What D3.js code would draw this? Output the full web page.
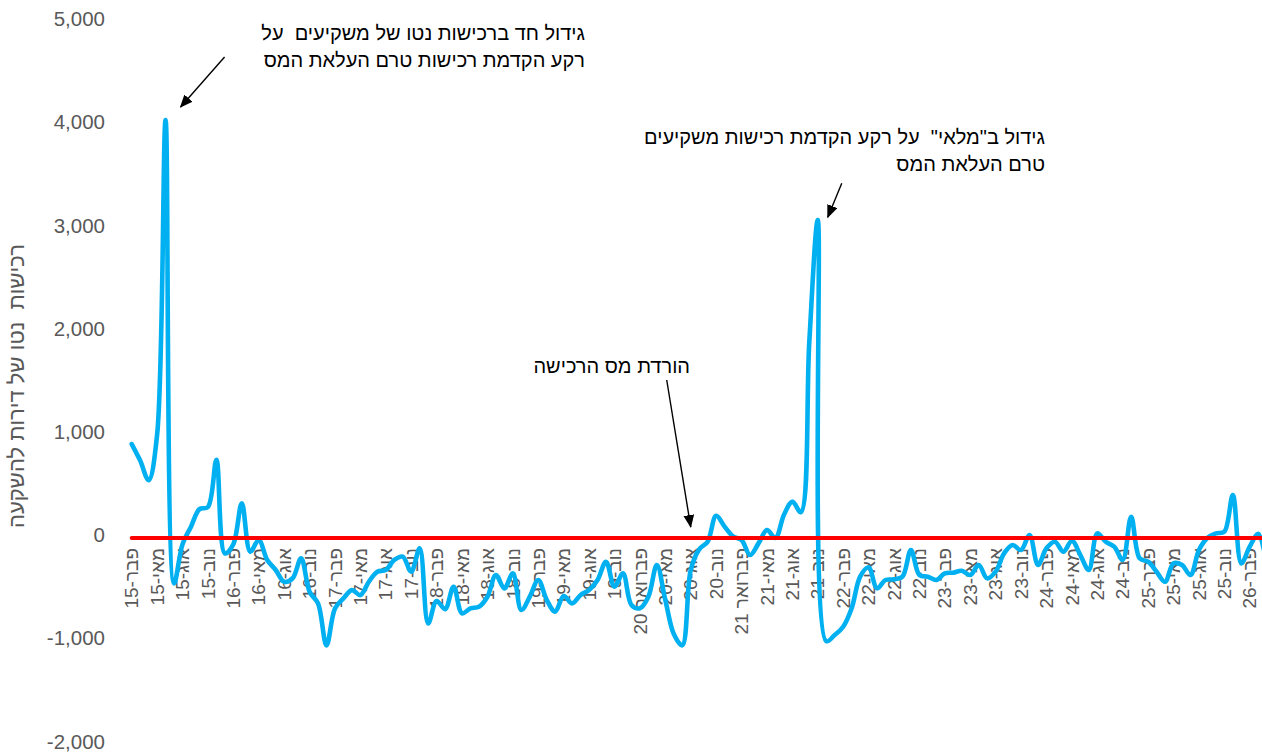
<!DOCTYPE html>
<html>
<head>
<meta charset="utf-8">
<script src="https://cdn.jsdelivr.net/npm/d3@7"></script>
<style>
  body { margin: 0; background: #fff; }
  text { font-family: "Liberation Sans", Arial, "DejaVu Sans", sans-serif; }
</style>
</head>
<body>
<svg id="chart" width="1262" height="753"></svg>
<script>
// Monthly categories, Feb 2015 – Apr 2026
const months = [
  "2015-02","2015-03","2015-04","2015-05","2015-06","2015-07","2015-08","2015-09","2015-10","2015-11","2015-12",
  "2016-01","2016-02","2016-03","2016-04","2016-05","2016-06","2016-07","2016-08","2016-09","2016-10","2016-11","2016-12",
  "2017-01","2017-02","2017-03","2017-04","2017-05","2017-06","2017-07","2017-08","2017-09","2017-10","2017-11","2017-12",
  "2018-01","2018-02","2018-03","2018-04","2018-05","2018-06","2018-07","2018-08","2018-09","2018-10","2018-11","2018-12",
  "2019-01","2019-02","2019-03","2019-04","2019-05","2019-06","2019-07","2019-08","2019-09","2019-10","2019-11","2019-12",
  "2020-01","2020-02","2020-03","2020-04","2020-05","2020-06","2020-07","2020-08","2020-09","2020-10","2020-11","2020-12",
  "2021-01","2021-02","2021-03","2021-04","2021-05","2021-06","2021-07","2021-08","2021-09","2021-10","2021-11","2021-12",
  "2022-01","2022-02","2022-03","2022-04","2022-05","2022-06","2022-07","2022-08","2022-09","2022-10","2022-11","2022-12",
  "2023-01","2023-02","2023-03","2023-04","2023-05","2023-06","2023-07","2023-08","2023-09","2023-10","2023-11","2023-12",
  "2024-01","2024-02","2024-03","2024-04","2024-05","2024-06","2024-07","2024-08","2024-09","2024-10","2024-11","2024-12",
  "2025-01","2025-02","2025-03","2025-04","2025-05","2025-06","2025-07","2025-08","2025-09","2025-10","2025-11","2025-12",
  "2026-01","2026-02","2026-03","2026-04"
];

// Net purchases of investment apartments (units), same order as months
const netPurchases = [
  910, 750, 560, 1000, 4050, -440, -60, 110, 280, 300, 757,
  -150, -60, 337, -133, -20, -213, -310, -424, -390, -197, -520, -634,
  -1040, -683, -585, -505, -553, -424, -327, -310, -213, -180, -327, -100,
  -828, -610, -690, -472, -730, -681, -666, -569, -359, -488, -343, -698,
  -569, -407, -600, -714, -562, -633, -552, -504, -407, -230, -472, -343,
  -649, -681, -569, -262, -600, -930, -1040, -310, -110, -36, 215, 110,
  15, -20, -165, -52, 78, 0, 223, 352, 250, 1900, 3080, -1000,
  -940, -860, -681, -375, -284, -488, -407, -401, -375, -116, -359, -375,
  -407, -343, -336, -317, -359, -262, -391, -326, -149, -68, -116, 29,
  -262, -100, -36, -133, -26, -165, -310, 45, -36, -84, -213, 206,
  -197, -230, -327, -424, -246, -262, -359, -116, 0, 45, 61, 417,
  -246, -84, 40, -250
];

// Reference series at zero
const baseline = [0, 0];

// Category axis labels (every third month)
const tickMonths = [
  "2015-02","2015-05","2015-08","2015-11","2016-02","2016-05","2016-08","2016-11",
  "2017-02","2017-05","2017-08","2017-11","2018-02","2018-05","2018-08","2018-11",
  "2019-02","2019-05","2019-08","2019-11","2020-02","2020-05","2020-08","2020-11",
  "2021-02","2021-05","2021-08","2021-11","2022-02","2022-05","2022-08","2022-11",
  "2023-02","2023-05","2023-08","2023-11","2024-02","2024-05","2024-08","2024-11",
  "2025-02","2025-05","2025-08","2025-11","2026-02"
];
const tickLabels = [
  "פבר-15","מאי-15","אוג-15","נוב-15","פבר-16","מאי-16","אוג-16","נוב-16",
  "פבר-17","מאי-17","אוג-17","נוב-17","פבר-18","מאי-18","אוג-18","נוב-18",
  "פבר-19","מאי-19","אוג-19","נוב-19","פברואר 20","מאי-20","אוג-20","נוב-20",
  "פברואר 21","מאי-21","אוג-21","נוב-21","פבר-22","מאי-22","אוג-22","נוב-22",
  "פבר-23","מאי-23","אוג-23","נוב-23","פבר-24","מאי-24","אוג-24","נוב-24",
  "פבר-25","מאי-25","אוג-25","נוב-25","פבר-26"
];

const yTicks = [-2000, -1000, 0, 1000, 2000, 3000, 4000, 5000];
const yTitle = "רכישות  נטו של דירות להשקעה";

// Callouts: text lines, the month/value they point at
const notes = [
  { lines: ["גידול חד ברכישות נטו של משקיעים  על", "רקע הקדמת רכישות טרם העלאת המס"],
    month: "2015-06", value: 4050 },
  { lines: ["גידול ב\"מלאי\"  על רקע הקדמת רכישות משקיעים", "טרם העלאת המס"],
    month: "2021-11", value: 3080 },
  { lines: ["הורדת מס הרכישה"], month: "2020-08", value: 0 }
];

// ---- layout ----
const svg = d3.select("#chart");
const step = 8.47;
const x = d3.scalePoint().domain(months).range([131.7, 131.7 + step * (months.length - 1)]);
const y = d3.scaleLinear().domain([-2000, 5000]).range([744.4, 22]);
const fmt = d3.formatLocale({ decimal: ".", thousands: ",", grouping: [3], currency: ["", ""], minus: "-" }).format(",");
const grey = "#595959";

// value axis labels
svg.append("g").selectAll("text").data(yTicks).join("text")
  .attr("x", 105).attr("y", d => y(d) - 3).attr("dy", "0.35em")
  .attr("text-anchor", "end").attr("fill", grey).attr("font-size", 20.5)
  .text(d => fmt(d));

// value axis title
svg.append("text")
  .attr("transform", `translate(24,386) rotate(-90)`)
  .attr("text-anchor", "middle").attr("direction", "rtl")
  .attr("fill", grey).attr("font-size", 22)
  .style("white-space", "pre")
  .text(yTitle);

// category labels, rotated, hanging below the zero line
svg.append("g").selectAll("text").data(tickMonths).join("text")
  .attr("transform", d => `translate(${x(d)},${y(0) + 10}) rotate(-90)`)
  .attr("dy", "0.35em")
  .attr("direction", "rtl").style("direction", "rtl")
  .attr("text-anchor", "start")
  .attr("fill", grey).attr("font-size", 19)
  .text((d, i) => tickLabels[i]);

// main series
const line = d3.line()
  .x((d, i) => x(months[i]))
  .y(d => y(d))
  .curve(d3.curveCatmullRom.alpha(0.5));

svg.append("path")
  .datum(netPurchases)
  .attr("fill", "none").attr("stroke", "#00B0F0")
  .attr("stroke-width", 4.6).attr("stroke-linejoin", "round").attr("stroke-linecap", "round")
  .attr("d", line);

// zero series
svg.append("path")
  .datum(baseline)
  .attr("fill", "none").attr("stroke", "#FF0000").attr("stroke-width", 4)
  .attr("stroke-linecap", "round")
  .attr("d", d3.line()
    .x((d, i) => x(i === 0 ? months[0] : months[months.length - 1]))
    .y(d => y(d)));

// arrowhead
svg.append("defs").append("marker")
  .attr("id", "arrow").attr("markerUnits", "userSpaceOnUse")
  .attr("viewBox", "0 0 12 10").attr("refX", 11).attr("refY", 5)
  .attr("markerWidth", 13).attr("markerHeight", 11).attr("orient", "auto")
  .append("path").attr("d", "M0,0 L12,5 L0,10 Z").attr("fill", "#000");

// callouts (offsets from the point each one refers to)
const calloutLayout = [
  { textX: 585, textY: 40, from: [59, -63], to: [15, -13] },
  { textX: 1045, textY: 144, from: [24, -37], to: [10, -3] },
  { textX: 690, textY: 373, from: [-24, -158], to: [0, -11] }
];

notes.forEach((n, k) => {
  const L = calloutLayout[k];
  const px = x(n.month), py = y(n.value);
  const t = svg.append("text")
    .attr("direction", "rtl").style("direction", "rtl")
    .attr("text-anchor", "start")
    .attr("fill", "#000").attr("font-size", 20)
    .style("white-space", "pre");
  n.lines.forEach((s, j) => {
    t.append("tspan").attr("x", L.textX).attr("y", L.textY + j * 27).text(s);
  });
  svg.append("line")
    .attr("x1", px + L.from[0]).attr("y1", py + L.from[1])
    .attr("x2", px + L.to[0]).attr("y2", py + L.to[1])
    .attr("stroke", "#000").attr("stroke-width", 1.4)
    .attr("marker-end", "url(#arrow)");
});
</script>
</body>
</html>
